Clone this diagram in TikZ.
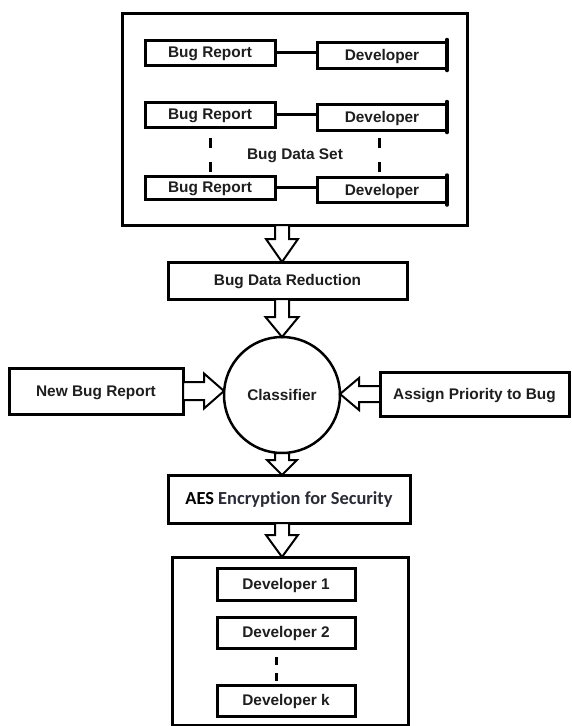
\documentclass[tikz,border=0pt]{standalone}
\usepackage{fontspec}
\setmainfont{Liberation Sans}
\newfontfamily\calib[Ligatures={NoCommon}]{Carlito}
\usetikzlibrary{calc}
\definecolor{txt}{HTML}{1E1E1E}
\definecolor{txtb}{HTML}{2B2B38}
\tikzset{
  box/.style={draw=black, line width=3pt, rectangle, inner sep=0pt, outer sep=0pt,
    font=\fontsize{15.4}{18}\selectfont\bfseries, text=txt, fill=white,
    text height=11pt, text depth=0.5pt},
  outerbox/.style={draw=black, line width=3pt, rectangle, inner sep=0pt, outer sep=0pt},
  circ/.style={draw=black, line width=2.5pt, circle, inner sep=0pt, outer sep=0pt,
    minimum size=116pt, font=\fontsize{15.4}{18}\selectfont\bfseries, text=txt,
    text height=11pt, text depth=0.5pt},
  plain/.style={inner sep=0pt, font=\fontsize{15.4}{18}\selectfont\bfseries, text=txt,
    text height=11pt, text depth=0.5pt},
  link/.style={draw=black, line width=3pt},
  vdots/.style={draw=black, line width=3pt, dash pattern=on 10pt off 14pt},
  vdotsb/.style={draw=black, line width=3pt, dash pattern=on 8pt off 8pt},
  nub/.style={draw=black, line width=3.5pt, line cap=round},
  harrow/.style={draw=black, line width=2pt, fill=white, line join=miter}
}
% vertical hollow arrow pointing down: start, tip, shaft half width, head half width, head length
\newcommand{\vdownarrow}[5]{\draw[harrow] let \p1=(#1), \p2=(#2) in
  (\x1-#3pt,\y1) -- (\x1+#3pt,\y1) -- (\x1+#3pt,\y2+#5pt) -- (\x1+#4pt,\y2+#5pt)
  -- (\x1,\y2) -- (\x1-#4pt,\y2+#5pt) -- (\x1-#3pt,\y2+#5pt) -- cycle;}
% horizontal hollow arrow pointing right
\newcommand{\hrightarrow}[5]{\draw[harrow] let \p1=(#1), \p2=(#2) in
  (\x1,\y1+#3pt) -- (\x2-#5pt,\y1+#3pt) -- (\x2-#5pt,\y1+#4pt) -- (\x2,\y1)
  -- (\x2-#5pt,\y1-#4pt) -- (\x2-#5pt,\y1-#3pt) -- (\x1,\y1-#3pt) -- cycle;}
% horizontal hollow arrow pointing left
\newcommand{\hleftarrow}[5]{\draw[harrow] let \p1=(#1), \p2=(#2) in
  (\x1,\y1+#3pt) -- (\x2+#5pt,\y1+#3pt) -- (\x2+#5pt,\y1+#4pt) -- (\x2,\y1)
  -- (\x2+#5pt,\y1-#4pt) -- (\x2+#5pt,\y1-#3pt) -- (\x1,\y1-#3pt) -- cycle;}
\begin{document}
\begin{tikzpicture}[x=1pt,y=-1pt]
\fill[white] (0,0) rectangle (571,726);
\useasboundingbox (0,0) rectangle (571,726);
\coordinate (ax) at (282,0);

% ---- top box: bug data set
\node[outerbox, minimum width=345pt, minimum height=212pt] (top) at (294.5,119) {};
\node[box, minimum width=130pt, minimum height=25pt] (br1) at (210,52.5) {Bug Report};
\node[box, minimum width=130pt, minimum height=26pt] (d1) at (382,55) {Developer};
\node[box, minimum width=130pt, minimum height=25pt] (br2) at (210,114.5) {Bug Report};
\node[box, minimum width=130pt, minimum height=26pt] (d2) at (382,117) {Developer};
\node[box, minimum width=130pt, minimum height=23pt] (br3) at (210,187.5) {Bug Report};
\node[box, minimum width=130pt, minimum height=25pt] (d3) at (382,190) {Developer};
\node[plain] (bds) at (295,154) {Bug Data Set};

\draw[link] (br1.east) -- (br1.east -| d1.west);
\draw[link] (br2.east) -- (br2.east -| d2.west);
\draw[link] (br3.east) -- (br3.east -| d3.west);
\draw[nub] ($(d1.north east)+(0,-2.5)$) -- ($(d1.south east)+(0,2.5)$);
\draw[nub] ($(d2.north east)+(0,-2.5)$) -- ($(d2.south east)+(0,2.5)$);
\draw[nub] ($(d3.north east)+(0,-2.5)$) -- ($(d3.south east)+(0,2.5)$);
\draw[vdots] ($(br2.south)+(0,11)$) -- ($(br3.north)+(0,-4)$);
\draw[vdots] ($(d2.south)+(-3,8)$) -- ($(d3.north)+(-3,-5)$);

% ---- bug data reduction
\node[box, minimum width=239pt, minimum height=37pt] (bdr) at (287.5,280.5) {Bug Data Reduction};
\vdownarrow{top.south -| ax}{bdr.north -| ax}{7}{16}{23}

% ---- classifier
\node[circ] (cl) at (282,395) {Classifier};
\vdownarrow{bdr.south -| ax}{cl.north}{7}{16.5}{20}

\node[box, minimum width=174pt, minimum height=46pt] (nbr) at (96,391) {New Bug Report};
\node[box, minimum width=189pt, minimum height=44pt] (apb) at (474.5,394) {Assign Priority to Bug};
\hrightarrow{nbr.east}{cl.west |- nbr.east}{9}{17.5}{20}
\hleftarrow{apb.west}{cl.east |- apb.west}{8}{16}{19}

% ---- AES
\node[box, minimum width=242pt, minimum height=48pt,
  font=\calib\fontsize{18.4}{22}\selectfont\bfseries, text=black,
  text height=12pt, text depth=1pt] (aes) at (289,499)
  {AES {\color{txtb}Encryption for Security}};
\vdownarrow{cl.south}{aes.north -| ax}{7}{15}{15}

% ---- developers
\node[outerbox, minimum width=236pt, minimum height=168pt] (devbox) at (290,641) {};
\vdownarrow{aes.south -| ax}{devbox.north -| ax}{7}{16}{22}
\node[box, minimum width=138pt, minimum height=32pt] (dv1) at (286,584) {Developer 1};
\node[box, minimum width=138pt, minimum height=31pt] (dv2) at (286,632.5) {Developer 2};
\node[box, minimum width=138pt, minimum height=31pt] (dvk) at (286,700.5) {Developer k};
\draw[vdotsb] ($(dv2.south)+(-10,9)$) -- ($(dvk.north)+(-10,-4)$);
\end{tikzpicture}
\end{document}
